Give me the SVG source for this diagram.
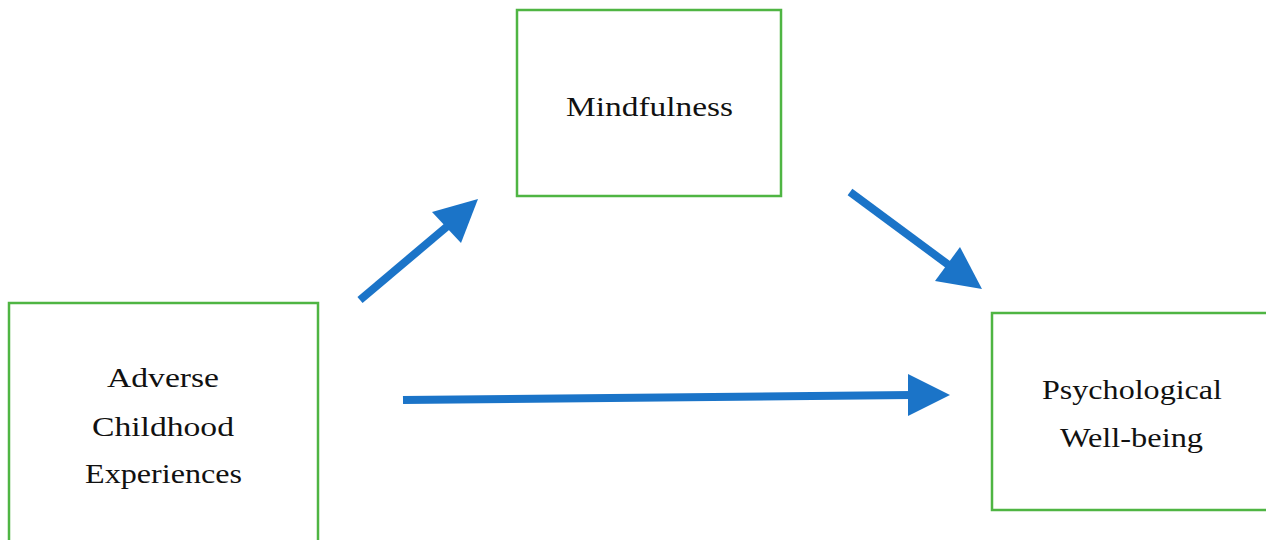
<svg xmlns="http://www.w3.org/2000/svg" width="1266" height="540" viewBox="0 0 1266 540">
<style>
.box{fill:#fff;stroke:#4fb543;stroke-width:2.5}
.lbl{font-family:"Liberation Serif","DejaVu Serif",serif;font-size:28px;fill:#111;text-anchor:middle}
.shaft{stroke:#1b74c8;stroke-width:8;fill:none}
.head{fill:#1b74c8}
</style>
<rect width="1266" height="540" fill="#fff"/>
<g id="mindfulness">
<rect class="box" x="517" y="10" width="264" height="186"/>
<text class="lbl" x="649.5" y="116" textLength="167" lengthAdjust="spacingAndGlyphs">Mindfulness</text>
</g>
<g id="ace">
<rect class="box" x="9" y="303" width="309" height="260"/>
<text class="lbl" x="163" y="387" textLength="112" lengthAdjust="spacingAndGlyphs">Adverse</text>
<text class="lbl" x="163" y="436" textLength="142" lengthAdjust="spacingAndGlyphs">Childhood</text>
<text class="lbl" x="163.5" y="483" textLength="157" lengthAdjust="spacingAndGlyphs">Experiences</text>
</g>
<g id="pwb">
<rect class="box" x="992" y="313" width="290" height="197"/>
<text class="lbl" x="1132" y="399" textLength="180" lengthAdjust="spacingAndGlyphs">Psychological</text>
<text class="lbl" x="1131.5" y="447" textLength="143" lengthAdjust="spacingAndGlyphs">Well-being</text>
</g>
<g id="connectors">
<line class="shaft" x1="360" y1="300" x2="450" y2="224"/>
<polygon class="head" points="478,199 432,212 461,243"/>
<line class="shaft" x1="850" y1="192" x2="950" y2="266"/>
<polygon class="head" points="982,289 935,281 960,247"/>
<line class="shaft" x1="403" y1="400" x2="912" y2="395"/>
<polygon class="head" points="950,395 908,374 908,416"/>
</g>
</svg>
